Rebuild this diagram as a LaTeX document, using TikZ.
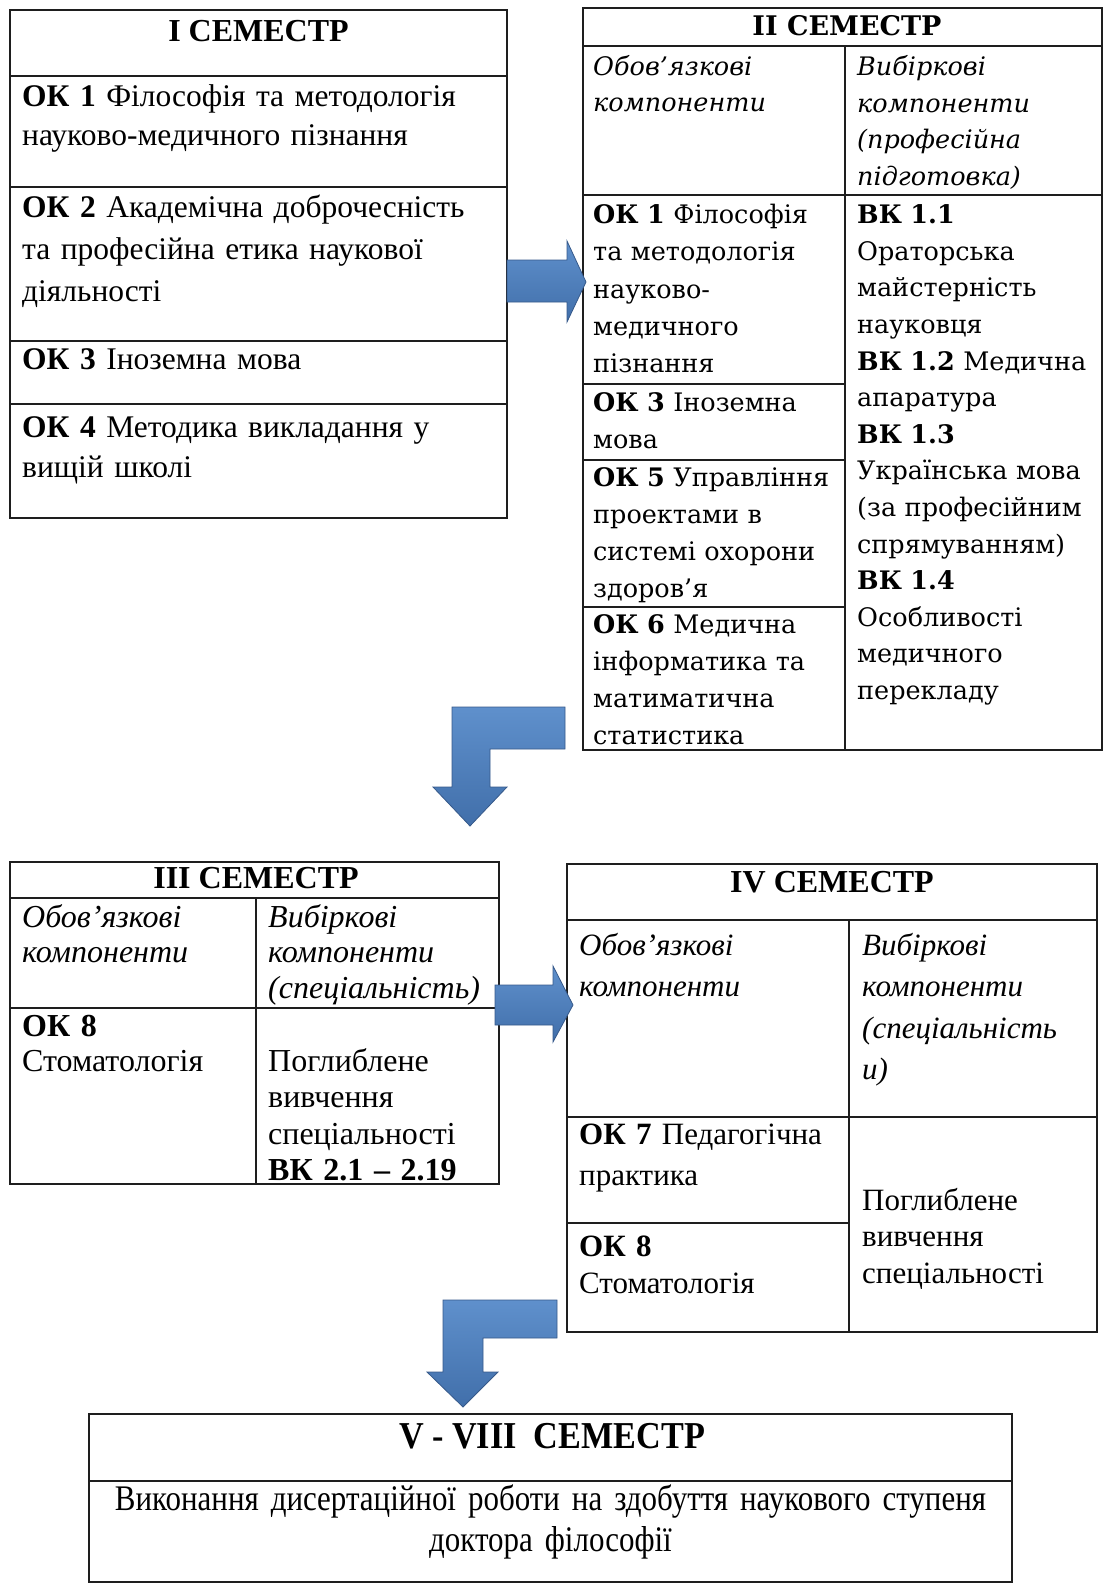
\documentclass[tikz,border=0pt]{standalone}
\usepackage{fontspec}
\setmainfont{Liberation Serif}
\newfontfamily\wideserif{DejaVu Serif}
\newfontfamily\narrowserif[FakeStretch=0.86]{Liberation Serif}
\newfontfamily\narrowtitle[FakeStretch=0.9]{Liberation Serif}
\definecolor{arrtop}{HTML}{5F90CC}
\definecolor{arrbot}{HTML}{416FAA}
\definecolor{arredge}{HTML}{36598A}
\definecolor{rulecol}{HTML}{1E1E1E}
\newcommand\cellbox[5]{\node[cell,minimum width={(#4-#2)*1pt},minimum height={(#5-#3)*1pt}] (#1) at (#2,#3) {};}
\begin{document}
\begin{tikzpicture}[x=1pt,y=-1pt,
  cell/.style={draw=rulecol,line width=1.4pt,anchor=north west,inner sep=0pt,outer sep=0pt},
  tx/.style={anchor=base west,inner sep=0pt,align=left,text width=700pt},
  txc/.style={anchor=base,inner sep=0pt,align=center,text width=900pt},
  libf/.style 2 args={font=\fontsize{#1}{#2}\selectfont},
  widf/.style={font=\wideserif\fontsize{25.5}{#1}\selectfont},
  ttl/.style={anchor=base,inner sep=0pt,font=\bfseries\fontsize{32}{36}\selectfont},
  blockarrow/.style={top color=arrtop,bottom color=arrbot,draw=arredge,line width=0.8pt,line join=miter}]
\useasboundingbox (0,0) rectangle (1108,1585);

% ---------- Semester I ----------
\cellbox{a0}{10}{10}{507}{76}
\cellbox{a1}{10}{76}{507}{187}
\cellbox{a2}{10}{187}{507}{341}
\cellbox{a3}{10}{341}{507}{404}
\cellbox{a4}{10}{404}{507}{518}
\node[ttl] (a0t) at (258.5,41) {I СЕМЕСТР};
\node[tx,libf={31.5}{39}] (a1t) at (22,106) {\textbf{ОК 1} Філософія та методологія\\науково-медичного пізнання};
\node[tx,libf={31.5}{42}] (a2t) at (22,217) {\textbf{ОК 2} Академічна доброчесність\\та професійна етика наукової\\діяльності};
\node[tx,libf={31.5}{40}] (a3t) at (22,369) {\textbf{ОК 3} Іноземна мова};
\node[tx,libf={31.5}{40}] (a4t) at (22,437) {\textbf{ОК 4} Методика викладання у\\вищій школі};

% ---------- Semester II ----------
\cellbox{b0}{583}{8}{1102}{46}
\cellbox{b1}{583}{46}{845}{195}
\cellbox{b2}{845}{46}{1102}{195}
\cellbox{b3}{583}{195}{845}{384}
\cellbox{b4}{583}{384}{845}{460}
\cellbox{b5}{583}{460}{845}{607}
\cellbox{b6}{583}{607}{845}{750}
\cellbox{b7}{845}{195}{1102}{750}
\node[anchor=base,inner sep=0pt,font=\wideserif\bfseries\fontsize{27}{30}\selectfont] (b0t) at (847,35) {II СЕМЕСТР};
\node[tx,widf=35.5] (b1t) at (593,75.6) {\itshape Обов’язкові\\компоненти};
\node[tx,widf=36.5] (b2t) at (857,75.6) {\itshape Вибіркові\\компоненти\\(професійна\\підготовка)};
\node[tx,widf=37.3] (b3t) at (593,223.6) {\textbf{ОК 1} Філософія\\та методологія\\науково-\\медичного\\пізнання};
\node[tx,widf=37] (b4t) at (593,411.6) {\textbf{ОК 3} Іноземна\\мова};
\node[tx,widf=36.8] (b5t) at (593,486.6) {\textbf{ОК 5} Управління\\проектами в\\системі охорони\\здоров’я};
\node[tx,widf=36.8] (b6t) at (593,633.6) {\textbf{ОК 6} Медична\\інформатика та\\матиматична\\статистика};
\node[tx,widf=36.6] (b7t) at (857,223.6) {\textbf{ВК 1.1}\\Ораторська\\майстерність\\науковця\\\textbf{ВК 1.2} Медична\\апаратура\\\textbf{ВК 1.3}\\Українська мова\\(за професійним\\спрямуванням)\\\textbf{ВК 1.4}\\Особливості\\медичного\\перекладу};

% ---------- Semester III ----------
\cellbox{c0}{10}{862}{499}{898}
\cellbox{c1}{10}{898}{256}{1008}
\cellbox{c2}{256}{898}{499}{1008}
\cellbox{c3}{10}{1008}{256}{1184}
\cellbox{c4}{256}{1008}{499}{1184}
\node[ttl] (c0t) at (256,888.5) {III СЕМЕСТР};
\node[tx,libf={32}{35.5}] (c1t) at (22,927.4) {\itshape Обов’язкові\\компоненти};
\node[tx,libf={32}{35.5}] (c2t) at (268,927.4) {\itshape Вибіркові\\компоненти\\(спеціальність)};
\node[tx,libf={32}{35}] (c3t) at (22,1036.5) {\textbf{ОК 8}\\Стоматологія};
\node[tx,libf={32}{36.5}] (c4t) at (268,1071.4) {Поглиблене\\вивчення\\спеціальності\\\textbf{ВК 2.1 – 2.19}};

% ---------- Semester IV ----------
\cellbox{d0}{567}{864}{1097}{920}
\cellbox{d1}{567}{920}{849}{1117}
\cellbox{d2}{849}{920}{1097}{1117}
\cellbox{d3}{567}{1117}{849}{1223}
\cellbox{d4}{567}{1223}{849}{1332}
\cellbox{d5}{849}{1117}{1097}{1332}
\node[ttl] (d0t) at (832,892.5) {IV СЕМЕСТР};
\node[tx,libf={31}{41.5}] (d1t) at (579,955.4) {\itshape Обов’язкові\\компоненти};
\node[tx,libf={31}{41.5}] (d2t) at (862,955.4) {\itshape Вибіркові\\компоненти\\(спеціальність\\и)};
\node[tx,libf={31}{41}] (d3t) at (579,1144.4) {\textbf{ОК 7} Педагогічна\\практика};
\node[tx,libf={31}{37}] (d4t) at (579,1256.5) {\textbf{ОК 8}\\Стоматологія};
\node[tx,libf={31}{36.5}] (d5t) at (862,1210.4) {Поглиблене\\вивчення\\спеціальності};

% ---------- Semester V-VIII ----------
\cellbox{e0}{89}{1414}{1012}{1481}
\cellbox{e1}{89}{1481}{1012}{1582}
\node[anchor=base,inner sep=0pt,font=\narrowtitle\bfseries\fontsize{38}{40}\selectfont] (e0t) at (552,1448) {V - VIII\ \ СЕМЕСТР};
\node[txc,font=\narrowserif\fontsize{36}{41}\selectfont] (e1t) at (550.5,1510) {Виконання дисертаційної роботи на здобуття наукового ступеня\\доктора філософії};

% ---------- block arrows ----------
\path[blockarrow] (507,260) -- (567,260) -- (567,241) -- (586,282) -- (567,322) -- (567,302) -- (507,302) -- cycle;
\path[blockarrow] (565,707) -- (452,707) -- (452,787) -- (433,787) -- (470,826) -- (507,787) -- (490,787) -- (490,749) -- (565,749) -- cycle;
\path[blockarrow] (495,985) -- (553,985) -- (553,966) -- (573,1005) -- (553,1042) -- (553,1025) -- (495,1025) -- cycle;
\path[blockarrow] (557,1300) -- (443,1300) -- (443,1372) -- (427,1372) -- (463,1407) -- (498,1372) -- (483,1372) -- (483,1338) -- (557,1338) -- cycle;
\end{tikzpicture}
\end{document}
